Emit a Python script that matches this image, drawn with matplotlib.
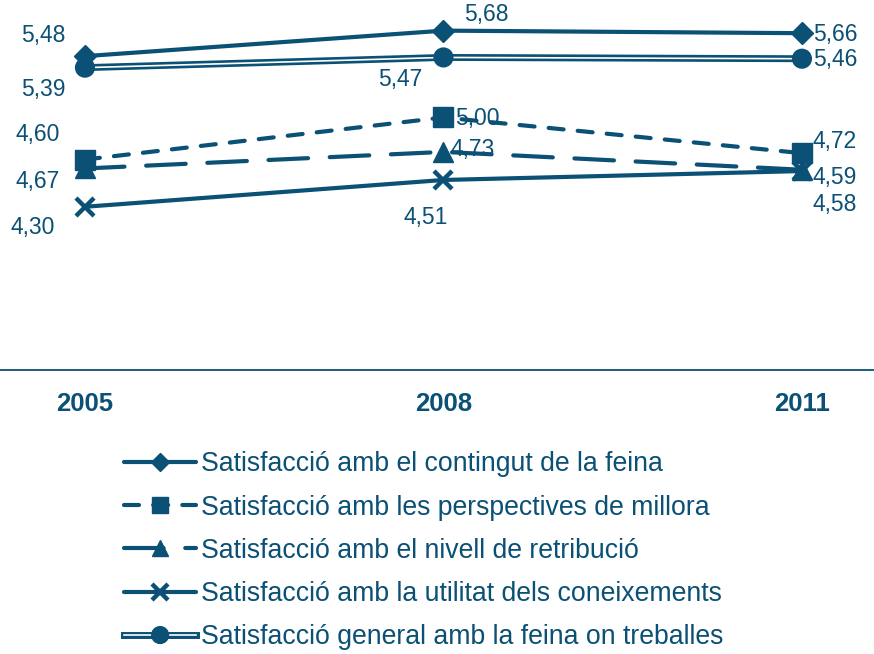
import matplotlib.pyplot as plt
import matplotlib.patheffects as pe

years = ['2005', '2008', '2011']
contingut = [5.48, 5.68, 5.66]
perspectives = [4.67, 5.00, 4.72]
retribucio = [4.60, 4.73, 4.59]
coneixements = [4.30, 4.51, 4.58]
general = [5.39, 5.47, 5.46]

noms = ['Satisfacció amb el contingut de la feina',
        'Satisfacció amb les perspectives de millora',
        'Satisfacció amb el nivell de retribució',
        'Satisfacció amb la utilitat dels coneixements',
        'Satisfacció general amb la feina on treballes']

# label offsets in pixels (x, y) relative to each point
off_contingut = [(-42, 21), (43, 16), (33, -1)]
off_perspectives = [(-47, -22), (34, -1), (33, 12)]
off_retribucio = [(-47, 34), (29, 2), (33, -8)]
off_coneixements = [(-52, -21), (-18, -38), (33, -33)]
off_general = [(-42, -22), (-43, -22), (33, -1)]

color = '#0b5075'
plt.rcParams['font.family'] = ['Liberation Sans', 'DejaVu Sans']

fig = plt.figure(figsize=(8.74, 6.54), dpi=100)
ax = fig.add_axes([0, 0.434, 1, 0.566])
x = range(len(years))

lw = 3.0
caps = dict(solid_capstyle='round', dash_capstyle='round')
l1, = ax.plot(x, contingut, color=color, lw=lw, marker='D', ms=11, zorder=5, **caps)
l2, = ax.plot(x, perspectives, color=color, lw=lw, ls=(0, (3.6, 3.4)),
              marker='s', ms=14, zorder=5, **caps)
l3, = ax.plot(x, retribucio, color=color, lw=lw, ls=(0, (9.5, 5.2)),
              marker='^', ms=14, zorder=5, **caps)
l4, = ax.plot(x, coneixements, color=color, lw=lw, marker='x', ms=13,
              mew=3.2, zorder=5, **caps)
l5, = ax.plot(x, general, color='white', lw=1.2, marker='o', ms=9.5,
              mfc=color, mec=color, zorder=5,
              path_effects=[pe.Stroke(linewidth=5.0, foreground=color), pe.Normal()])

series = [(contingut, off_contingut), (perspectives, off_perspectives),
          (retribucio, off_retribucio), (coneixements, off_coneixements),
          (general, off_general)]
for vals, offs in series:
    for i, v in enumerate(vals):
        ax.annotate(f'{v:.2f}'.replace('.', ','), (i, v), xytext=offs[i],
                    textcoords='offset pixels', ha='center', va='center',
                    fontsize=16.5, color=color, zorder=1)

ax.set_xlim(-0.237, 2.201)
ax.set_ylim(3.02, 5.92)
ax.set_xticks(list(x))
ax.set_xticklabels(years, fontsize=18.5, fontweight='bold', color=color)
ax.tick_params(axis='x', length=0, pad=16)
ax.set_yticks([])
for s in ['top', 'left', 'right']:
    ax.spines[s].set_visible(False)
ax.spines['bottom'].set_color(color)
ax.spines['bottom'].set_linewidth(1.3)

leg = fig.legend([l1, l2, l3, l4, l5], noms, loc='upper left',
                 bbox_to_anchor=(0.142, 0.31), frameon=False, fontsize=19.2,
                 handlelength=2.7, handletextpad=0.2, labelspacing=0.648,
                 borderaxespad=0, borderpad=0, markerscale=0.85)
for t in leg.get_texts():
    t.set_color(color)

fig.savefig('out.png', dpi=100)
